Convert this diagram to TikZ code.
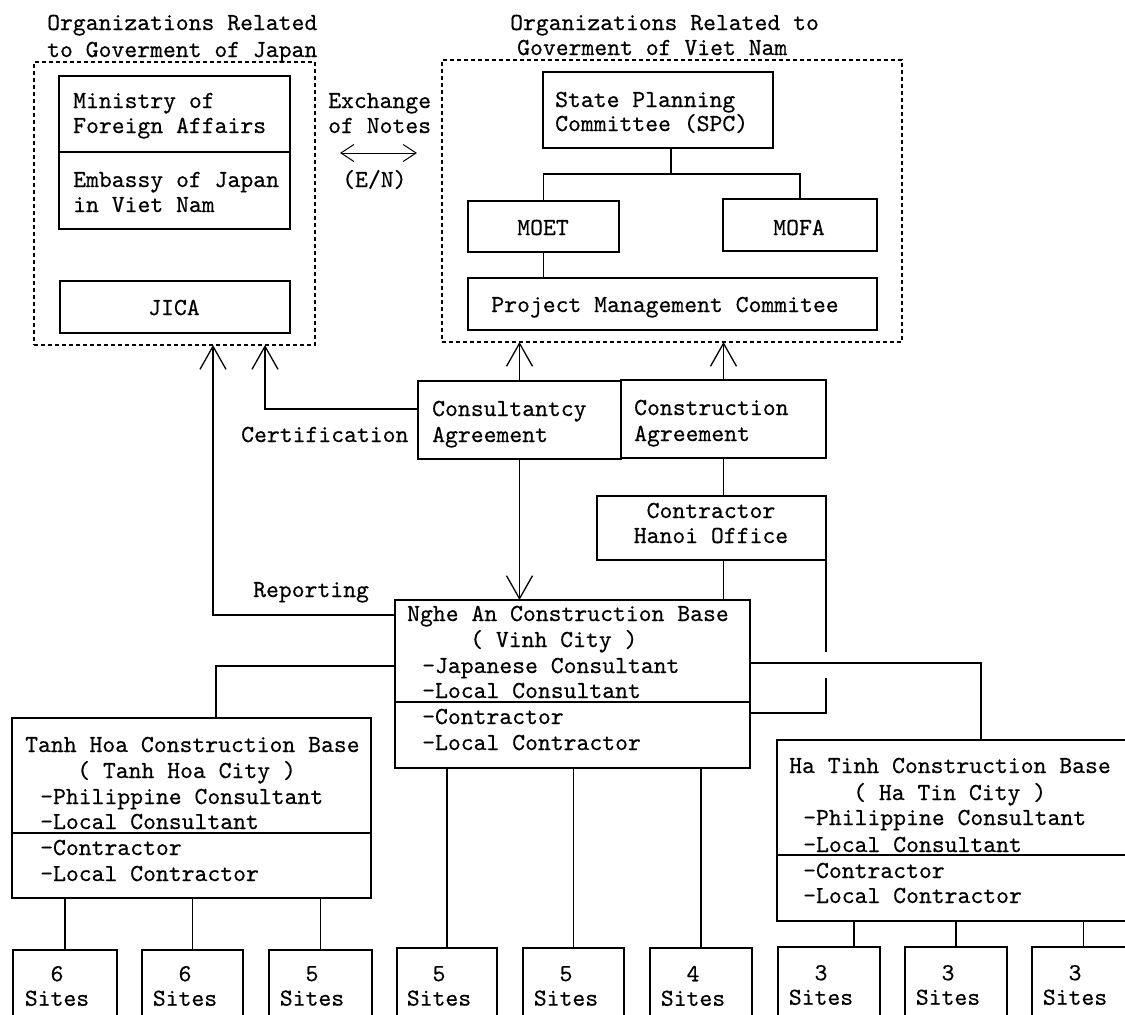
\documentclass[tikz,border=0pt]{standalone}
\usepackage{fontspec}
\newfontfamily\dg{lmmono10-regular}[Extension=.otf,FakeBold=0.4]
\usetikzlibrary{arrows.meta,fit}
\newcommand\dgf{\dg\fontsize{24.5}{26}\selectfont}
\newcommand\dgs{\dg\fontsize{24.5}{24.5}\selectfont}
\tikzset{
  box/.style={draw, line width=1.4pt, inner sep=0pt, outer sep=0pt},
  grp/.style={draw, dash pattern=on 4pt off 3pt, line width=1.3pt, inner sep=0pt, outer sep=0pt},
  lbl/.style={anchor=base west, inner sep=0pt, font=\dgf},
  ctr/.style={anchor=base, inner sep=0pt, font=\dgf},
  sitelbl/.style={anchor=center, inner sep=0pt, align=center, font=\dgs},
  conn/.style={line width=1.4pt},
  bigarrow/.style={conn, -{Straight Barb[length=23pt,width=26pt,line width=1.3pt]}},
  dblarrow/.style={line width=0.9pt, {Straight Barb[length=13pt,width=17pt,line width=1pt]}-{Straight Barb[length=13pt,width=17pt,line width=1pt]}}
}
\begin{document}
\begin{tikzpicture}[x=1pt,y=-1pt]
\fill[white] (0,0) rectangle (1125,1015);
\useasboundingbox (0,0) rectangle (1125,1015);

% titles
\node[lbl] (tj1) at (47,30) {Organizations Related};
\node[lbl] (tj2) at (47,57) {to Goverment of Japan};
\node[lbl] (tv1) at (510,30) {Organizations Related to};
\node[lbl] (tv2) at (517,55) {Goverment of Viet Nam};

% group frames
\node[grp, fit={(34,62)(315,345)}] (gj) {};
\node[grp, fit={(442,60)(902,342)}] (gv) {};

% Japan side
\node[box, fit={(59,76)(290,229)}] (mofaj) {};
\draw[conn] (59,152) -- (290,152);
\node[lbl] (tmin1) at (73,108) {Ministry of};
\node[lbl] (tmin2) at (73,133) {Foreign Affairs};
\node[lbl] (temb1) at (73,187) {Embassy of Japan};
\node[lbl] (temb2) at (73,212) {in Viet Nam};
\node[box, fit={(60,281)(290,333)}] (jica) {};
\node[ctr] (tjica) at (174,315) {JICA};

% exchange of notes
\node[lbl] (ten1) at (328,108) {Exchange};
\node[lbl] (ten2) at (328,133) {of Notes};
\coordinate (en1) at (340,153);
\coordinate (en2) at (417,153);
\draw[dblarrow] (en1) -- (en2);
\node[lbl] (ten3) at (342,187) {(E/N)};

% Viet Nam side
\node[box, fit={(543,72)(773,148)}] (spc) {};
\node[lbl] (tspc1) at (555,107) {State Planning};
\node[lbl] (tspc2) at (555,131) {Committee (SPC)};
\node[box, fit={(468,201)(619,252)}] (moet) {};
\node[ctr] (tmoet) at (543,235) {MOET};
\node[box, fit={(723,199)(877,251)}] (mofa) {};
\node[ctr] (tmofa) at (799,235) {MOFA};
\node[box, fit={(468,278)(877,330)}] (pmc) {};
\node[ctr] (tpmc) at (665,312) {Project Management Commitee};

% agreements
\node[box, fit={(418,381)(621,459)}] (cons) {};
\node[lbl] (tcons1) at (432,416) {Consultantcy};
\node[lbl] (tcons2) at (432,442) {Agreement};
\node[box, fit={(621,380)(826,458)}] (constr) {};
\node[lbl] (tconstr1) at (634,415) {Construction};
\node[lbl] (tconstr2) at (634,441) {Agreement};
\node[lbl] (tcert) at (241,442) {Certification};
\node[lbl] (trep) at (253,597) {Reporting};

\node[box, fit={(597,496)(826,560)}] (hanoi) {};
\node[ctr] (thanoi1) at (711,518) {Contractor};
\node[ctr] (thanoi2) at (711,543) {Hanoi Office};

% construction bases
\node[box, fit={(395,600)(750,768)}] (na) {};
\draw[conn] (395,702) -- (750,702);
\node[lbl] (tna1) at (407,621) {Nghe An Construction Base};
\node[lbl] (tna2) at (470,647) {( Vinh City )};
\node[lbl] (tna3) at (422,673) {-Japanese Consultant};
\node[lbl] (tna4) at (422,698) {-Local Consultant};
\node[lbl] (tna5) at (422,724) {-Contractor};
\node[lbl] (tna6) at (422,750) {-Local Contractor};

\node[box, fit={(12,718)(371,898)}] (th) {};
\draw[conn] (12,833) -- (371,833);
\node[lbl] (tth1) at (25,752) {Tanh Hoa Construction Base};
\node[lbl] (tth2) at (77,778) {( Tanh Hoa City )};
\node[lbl] (tth3) at (40,804) {-Philippine Consultant};
\node[lbl] (tth4) at (40,829) {-Local Consultant};
\node[lbl] (tth5) at (40,855) {-Contractor};
\node[lbl] (tth6) at (40,881) {-Local Contractor};

\node[box, fit={(777,740)(1132,921)}] (ht) {};
\draw[conn] (777,855) -- (1132,855);
\node[lbl] (tht1) at (789,773) {Ha Tinh Construction Base};
\node[lbl] (tht2) at (853,800) {( Ha Tin City )};
\node[lbl] (tht3) at (803,825) {-Philippine Consultant};
\node[lbl] (tht4) at (803,852) {-Local Consultant};
\node[lbl] (tht5) at (803,878) {-Contractor};
\node[lbl] (tht6) at (803,903) {-Local Contractor};

% sites
\node[box, fit={(13,950)(117,1030)}] (s1) {};
\node[box, fit={(142,950)(243,1030)}] (s2) {};
\node[box, fit={(269,950)(372,1030)}] (s3) {};
\node[box, fit={(397,948)(497,1030)}] (s4) {};
\node[box, fit={(523,948)(624,1030)}] (s5) {};
\node[box, fit={(650,948)(752,1030)}] (s6) {};
\node[box, fit={(778,947)(880,1030)}] (s7) {};
\node[box, fit={(905,947)(1007,1030)}] (s8) {};
\node[box, fit={(1032,947)(1135,1030)}] (s9) {};
\node[sitelbl] (w1) at (57,986) {6\\Sites};
\node[sitelbl] (w2) at (185,986) {6\\Sites};
\node[sitelbl] (w3) at (312,986) {5\\Sites};
\node[sitelbl] (w4) at (439,986) {5\\Sites};
\node[sitelbl] (w5) at (566,986) {5\\Sites};
\node[sitelbl] (w6) at (693,986) {4\\Sites};
\node[sitelbl] (w7) at (821,985) {3\\Sites};
\node[sitelbl] (w8) at (948,985) {3\\Sites};
\node[sitelbl] (w9) at (1075,985) {3\\Sites};

% connectors
\coordinate (spcj) at (671,174);
\draw[conn] (spc.south -| spcj) -- (spcj);
\draw[conn] (moet.north) |- (spcj) -| (mofa.north);
\draw[conn] (moet.south) -- (moet.south |- pmc.north);
\draw[bigarrow] (cons.north) -- (cons.north |- gv.south);
\draw[bigarrow] (constr.north) -- (constr.north |- gv.south);
\coordinate (certj) at (265,409);
\draw[bigarrow] (cons.west |- certj) -- (certj) -- (certj |- gj.south);
\coordinate (repj) at (213,615);
\draw[bigarrow] (na.west |- repj) -- (repj) -- (repj |- gj.south);
\draw[bigarrow] (cons.south) -- (cons.south |- na.north);
\draw[conn] (constr.south) -- (constr.south |- hanoi.north);
\draw[conn] (constr.south |- hanoi.south) -- (constr.south |- na.north);
\coordinate (hopa) at (826,652);
\coordinate (hopb) at (826,678);
\coordinate (cj) at (826,713);
\draw[conn] (hanoi.south east) -- (hopa);
\draw[conn] (hopb) -- (cj) -- (na.east |- cj);
\coordinate (htj) at (981,663);
\draw[conn] (na.east |- htj) -- (htj) -- (htj |- ht.north);
\coordinate (thj) at (216,666);
\draw[conn] (na.west |- thj) -- (thj) -- (thj |- th.north);
\draw[conn] (s1.north |- th.south) -- (s1.north);
\draw[conn] (s2.north |- th.south) -- (s2.north);
\draw[conn] (s3.north |- th.south) -- (s3.north);
\draw[conn] (s4.north |- na.south) -- (s4.north);
\draw[conn] (s5.north |- na.south) -- (s5.north);
\draw[conn] (s6.north |- na.south) -- (s6.north);
\coordinate (s7j) at (854,947);
\draw[conn] (s7j |- ht.south) -- (s7j);
\draw[conn] (s8.north |- ht.south) -- (s8.north);
\draw[conn] (s9.north |- ht.south) -- (s9.north);
\end{tikzpicture}
\end{document}
